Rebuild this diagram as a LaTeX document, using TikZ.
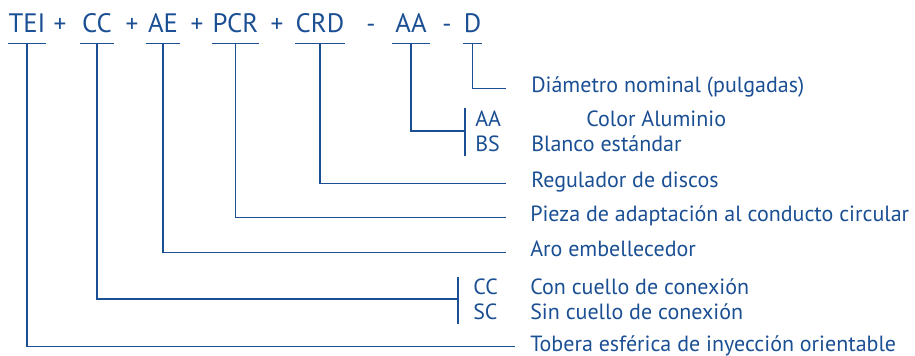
\documentclass[tikz,border=0pt]{standalone}
\usepackage{fontspec}
\setmainfont{PT Sans}
\usetikzlibrary{calc}
\definecolor{azul}{RGB}{27,79,147}
\def\u{0.75pt}
\begin{document}
\begin{tikzpicture}[x=0.75pt,y=-0.75pt,
  every node/.style={text=azul},
  code/.style={anchor=base, inner xsep=0pt, inner ysep=7.5pt, text depth=0pt, font=\fontsize{20}{24}\selectfont},
  sign/.style={anchor=base, inner sep=0pt, font=\fontsize{19}{24}\selectfont},
  lab/.style={anchor=base west, inner sep=0pt, text height=6.75pt, text depth=0pt, font=\fontsize{16.5}{19}\selectfont},
  ln/.style={draw=azul, line width=1pt},
]
\useasboundingbox (0,0) rectangle (915,356);
% title codes
\node[code, minimum width={34*\u}] (tei) at (27,33) {TEI};
\node[sign] (p1) at (60,33) {+};
\node[code, minimum width={34*\u}] (cc) at (97,33) {CC};
\node[sign] (p2) at (132,33) {+};
\node[code, minimum width={34*\u}] (ae) at (163,33) {AE};
\node[sign] (p3) at (197,33) {+};
\node[code, minimum width={45*\u}] (pcr) at (235.5,33) {PCR};
\node[sign] (p4) at (277,33) {+};
\node[code, minimum width={46*\u}] (crd) at (320,33) {CRD};
\node[sign] (m1) at (371,33) {-};
\node[code, minimum width={38*\u}] (aa) at (411,33) {AA};
\node[sign] (m2) at (447,33) {-};
\node[code, minimum width={19*\u}] (d) at (472.5,33) {D};
% underlines
\foreach \n in {tei,cc,ae,pcr,crd,aa,d}{
  \draw[ln] (\n.south west) -- (\n.south east);
}
% labels
\node[lab] (dia) at (531,93) {Diámetro nominal (pulgadas)};
\node[lab] (aaT) at (475,127) {AA};
\node[lab] (col) at (586,127) {Color Aluminio};
\node[lab] (bsT) at (475,152) {BS};
\node[lab] (bla) at (531,152) {Blanco estándar};
\node[lab] (reg) at (531,188) {Regulador de discos};
\node[lab] (pie) at (530,222) {Pieza de adaptación al conducto circular};
\node[lab] (aro) at (530,257) {Aro embellecedor};
\node[lab] (ccT) at (473,295) {CC};
\node[lab] (con) at (530,295) {Con cuello de conexión};
\node[lab] (scT) at (473,320) {SC};
\node[lab] (sin) at (530,320) {Sin cuello de conexión};
\node[lab] (tob) at (530,351) {Tobera esférica de inyección orientable};
% bracket points
\coordinate (brA) at (465,131);
\coordinate (brC) at (458,299);
% connectors
\draw[ln] (d.south) |- ($(dia.west)+(-25,0)$);
\draw[ln] (aa.south) |- (brA);
\draw[ln] ($(brA)+(0,-23)$) -- ($(brA)+(0,25)$);
\draw[ln] (crd.south) |- ($(reg.west)+(-25,0)$);
\draw[ln] (pcr.south) |- ($(pie.west)+(-24,0)$);
\draw[ln] (ae.south) |- ($(aro.west)+(-24,0)$);
\draw[ln] (cc.south) |- (brC);
\draw[ln] ($(brC)+(0,-22)$) -- ($(brC)+(0,25)$);
\draw[ln] (tei.south) |- ($(tob.west)+(-15,0)$);
\end{tikzpicture}
\end{document}
